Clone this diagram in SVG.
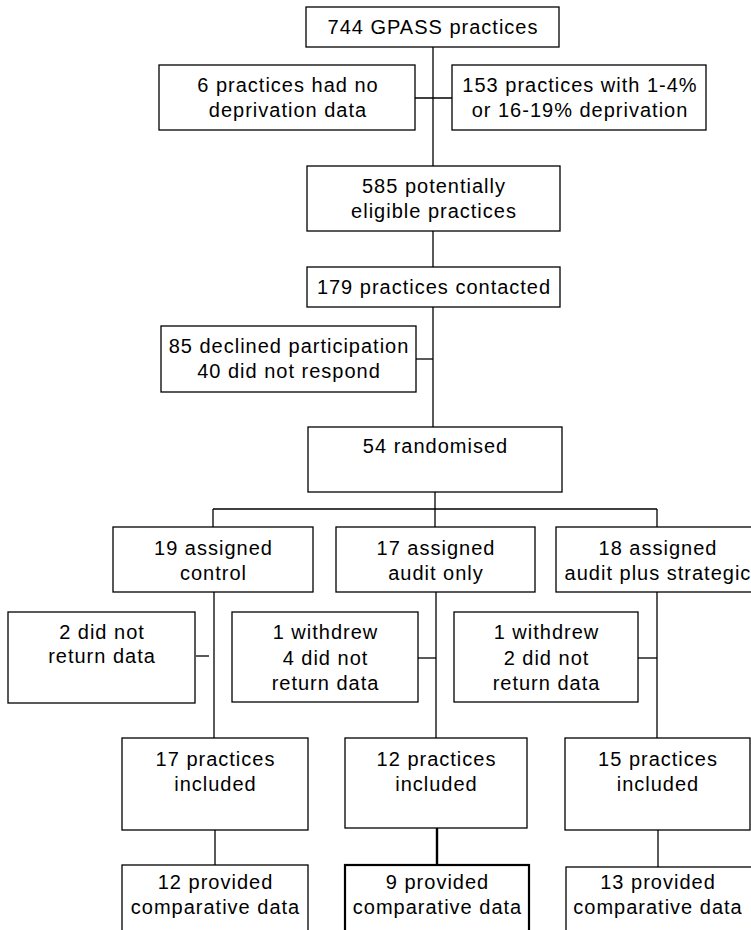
<svg xmlns="http://www.w3.org/2000/svg" width="751" height="930" viewBox="0 0 751 930">
<style>
  .box{fill:#fff;stroke:#000;stroke-width:1.3}
  .thick{stroke-width:2.2}
  .ln{stroke:#000;stroke-width:1.3;fill:none}
  .ln2{stroke:#000;stroke-width:2.4;fill:none}
  text{font-family:"Liberation Sans",Arial,Helvetica,sans-serif;font-size:20px;letter-spacing:1px;fill:#000;text-anchor:middle}
</style>
<rect width="751" height="930" fill="#fff"/>
<g id="connectors">
  <line class="ln" x1="433" y1="47" x2="433" y2="166"/>
  <line class="ln" x1="415" y1="98" x2="452" y2="98"/>
  <line class="ln" x1="433" y1="231" x2="433" y2="267"/>
  <line class="ln" x1="433" y1="307" x2="433" y2="427"/>
  <line class="ln" x1="416" y1="359" x2="433" y2="359"/>
  <line class="ln" x1="435" y1="492" x2="435" y2="527"/>
  <line class="ln" x1="213" y1="509" x2="657" y2="509"/>
  <line class="ln" x1="213" y1="509" x2="213" y2="527"/>
  <line class="ln" x1="657" y1="509" x2="657" y2="527"/>
  <line class="ln" x1="214" y1="592" x2="214" y2="738"/>
  <line class="ln" x1="196" y1="656" x2="209" y2="656"/>
  <line class="ln" x1="436" y1="592" x2="436" y2="738"/>
  <line class="ln" x1="418" y1="658" x2="436" y2="658"/>
  <line class="ln" x1="657" y1="592" x2="657" y2="738"/>
  <line class="ln" x1="638" y1="658" x2="657" y2="658"/>
  <line class="ln" x1="215" y1="830" x2="215" y2="865"/>
  <line class="ln2" x1="437" y1="828" x2="437" y2="865"/>
  <line class="ln" x1="658" y1="830" x2="658" y2="867"/>
</g>
<g id="n744">
  <rect class="box" x="306" y="7" width="253" height="40"/>
  <text x="433" y="33.5">744 GPASS practices</text>
</g>
<g id="n6">
  <rect class="box" x="159" y="65" width="256" height="65"/>
  <text x="288" y="92">6 practices had no</text>
  <text x="288" y="117">deprivation data</text>
</g>
<g id="n153">
  <rect class="box" x="452" y="65" width="254" height="65"/>
  <text x="580" y="92">153 practices with 1-4%</text>
  <text x="580" y="117">or 16-19% deprivation</text>
</g>
<g id="n585">
  <rect class="box" x="307" y="166" width="253" height="65"/>
  <text x="434" y="193">585 potentially</text>
  <text x="434" y="218">eligible practices</text>
</g>
<g id="n179">
  <rect class="box" x="307" y="267" width="253" height="40"/>
  <text x="434" y="294">179 practices contacted</text>
</g>
<g id="n85">
  <rect class="box" x="161" y="326" width="255" height="66"/>
  <text x="289" y="353">85 declined participation</text>
  <text x="289" y="378">40 did not respond</text>
</g>
<g id="n54">
  <rect class="box" x="308" y="427" width="254" height="65"/>
  <text x="435.5" y="453">54 randomised</text>
</g>
<g id="n19">
  <rect class="box" x="113" y="527" width="200" height="65"/>
  <text x="213.5" y="555">19 assigned</text>
  <text x="213.5" y="580">control</text>
</g>
<g id="n17a">
  <rect class="box" x="336" y="527" width="199" height="65"/>
  <text x="436" y="555">17 assigned</text>
  <text x="436" y="580">audit only</text>
</g>
<g id="n18">
  <rect class="box" x="556" y="527" width="205" height="65"/>
  <text x="658" y="555">18 assigned</text>
  <text x="658" y="580">audit plus strategic</text>
</g>
<g id="n2">
  <rect class="box" x="8" y="612" width="187" height="91"/>
  <text x="102" y="639">2 did not</text>
  <text x="102" y="663">return data</text>
</g>
<g id="n1w4">
  <rect class="box" x="232" y="612" width="186" height="90"/>
  <text x="325.5" y="639">1 withdrew</text>
  <text x="325.5" y="665">4 did not</text>
  <text x="325.5" y="690">return data</text>
</g>
<g id="n1w2">
  <rect class="box" x="454" y="612" width="184" height="90"/>
  <text x="546.5" y="639">1 withdrew</text>
  <text x="546.5" y="665">2 did not</text>
  <text x="546.5" y="690">return data</text>
</g>
<g id="n17p">
  <rect class="box" x="122" y="738" width="186" height="92"/>
  <text x="215.5" y="766">17 practices</text>
  <text x="215.5" y="791">included</text>
</g>
<g id="n12p">
  <rect class="box" x="345" y="738" width="182" height="90"/>
  <text x="436.5" y="766">12 practices</text>
  <text x="436.5" y="791">included</text>
</g>
<g id="n15p">
  <rect class="box" x="565" y="738" width="185" height="92"/>
  <text x="658" y="766">15 practices</text>
  <text x="658" y="791">included</text>
</g>
<g id="n12c">
  <rect class="box" x="122" y="865" width="186" height="75"/>
  <text x="215.5" y="889">12 provided</text>
  <text x="215.5" y="914">comparative data</text>
</g>
<g id="n9c">
  <rect class="box thick" x="345" y="865" width="184" height="75"/>
  <text x="437.5" y="889">9 provided</text>
  <text x="437.5" y="914">comparative data</text>
</g>
<g id="n13c">
  <rect class="box" x="566" y="867" width="186" height="73"/>
  <text x="658" y="889">13 provided</text>
  <text x="658" y="914">comparative data</text>
</g>
</svg>
